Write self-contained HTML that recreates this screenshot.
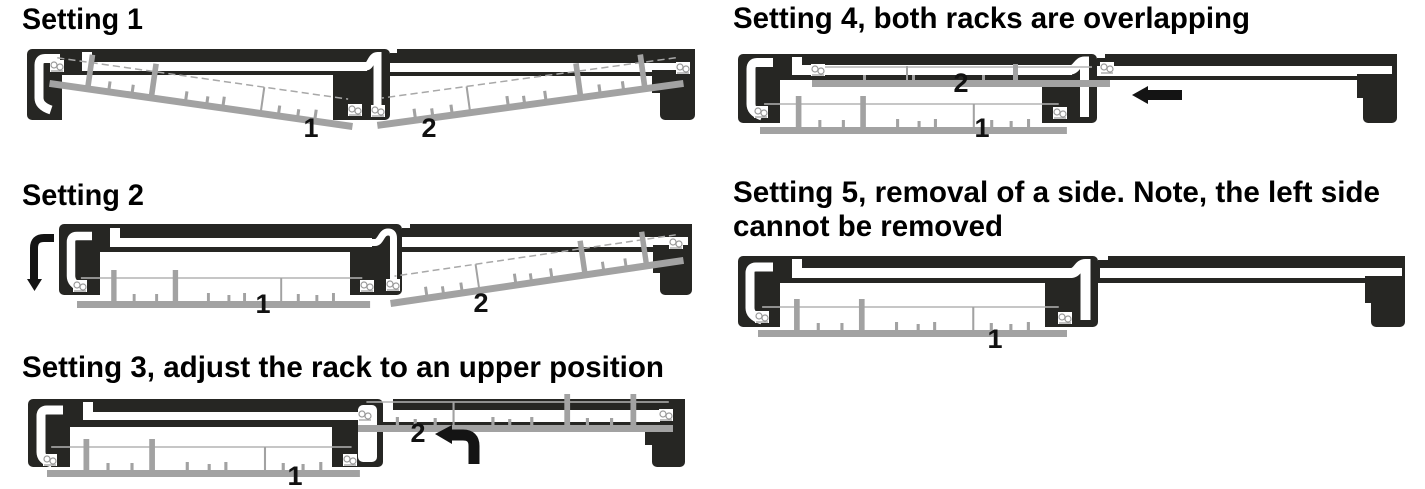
<!DOCTYPE html>
<html><head><meta charset="utf-8">
<style>
html,body{margin:0;padding:0;background:#fff;}
svg{display:block;}
.h{font-family:"Liberation Sans",Arial,sans-serif;font-weight:bold;font-size:30px;fill:#000;}
.n{font-family:"Liberation Sans",Arial,sans-serif;font-weight:bold;font-size:27px;fill:#111;text-anchor:middle;}
.d{fill:#262623;}
.w{fill:#fff;}
.ws{stroke:#fff;fill:none;}
</style></head><body>
<svg width="1425" height="489" viewBox="0 0 1425 489" xmlns="http://www.w3.org/2000/svg">
<defs>
<g id="rkb">
 <rect x="0" y="0" width="300" height="7" fill="#a2a2a2"/>
 <rect x="35" y="-31" width="5.5" height="32" fill="#a2a2a2"/>
 <rect x="98" y="-31" width="5.5" height="32" fill="#a2a2a2"/>
 <rect x="208" y="-23" width="2" height="24" fill="#a2a2a2"/>
 <g fill="#a2a2a2">
  <rect x="57" y="-7" width="3" height="8"/>
  <rect x="80" y="-7" width="3" height="8"/>
  <rect x="133" y="-8" width="3" height="9"/>
  <rect x="154" y="-6" width="3" height="7"/>
  <rect x="170" y="-8" width="3" height="9"/>
  <rect x="225" y="-7" width="3" height="8"/>
  <rect x="244" y="-6" width="3" height="7"/>
  <rect x="261" y="-8" width="3" height="9"/>
 </g>
</g>
<g id="rk">
 <line x1="4" y1="-23" x2="292" y2="-23" stroke="#b3b3b3" stroke-width="1.5"/>
 <use href="#rkb"/>
</g>
<g id="rkd">
 <line x1="4" y1="-23" x2="292" y2="-23" stroke="#a8a8a8" stroke-width="1.5" stroke-dasharray="7 4"/>
 <use href="#rkb"/>
</g>
<g id="pv">
 <rect x="-7" y="-6" width="14" height="12" fill="#fff"/>
 <circle cx="-3" cy="-1" r="3" fill="none" stroke="#9a9a9a" stroke-width="1.2"/>
 <circle cx="3" cy="1" r="3" fill="none" stroke="#9a9a9a" stroke-width="1.2"/>
 <line x1="-6" y1="5" x2="6" y2="5" stroke="#9a9a9a" stroke-width="1.2"/>
</g>
</defs>

<!-- Headings -->
<text class="h" x="22" y="29" textLength="121" lengthAdjust="spacingAndGlyphs">Setting 1</text>
<text class="h" x="22" y="205" textLength="122" lengthAdjust="spacingAndGlyphs">Setting 2</text>
<text class="h" x="22" y="377" textLength="642" lengthAdjust="spacingAndGlyphs">Setting 3, adjust the rack to an upper position</text>
<text class="h" x="733" y="28" textLength="517" lengthAdjust="spacingAndGlyphs">Setting 4, both racks are overlapping</text>
<text class="h" x="733" y="202" textLength="647" lengthAdjust="spacingAndGlyphs">Setting 5, removal of a side. Note, the left side</text>
<text class="h" x="733" y="236" textLength="270" lengthAdjust="spacingAndGlyphs">cannot be removed</text>

<!-- ===== Setting 1 ===== -->
<rect class="d" x="27" y="49" width="363" height="71" rx="5"/>
<rect class="w" x="62" y="75" width="271" height="47"/>
<rect class="w" x="82" y="62" width="285" height="9"/>
<rect class="w" x="82" y="52" width="10" height="19"/>
<path class="ws" d="M60 58.5 H45 Q39 58.5 39 65 V98 Q39 106 51 110" stroke-width="9"/>
<path class="ws" d="M355 66.5 H366 C371 66.5 371 56 377.5 56 V114" stroke-width="8"/>
<rect class="d" x="390" y="49" width="305" height="27"/>
<rect class="w" x="390" y="63" width="298" height="9"/>
<rect class="w" x="390" y="49" width="7" height="4"/>
<rect class="d" x="652" y="70" width="43" height="23"/>
<rect class="d" x="660" y="85" width="35" height="35" rx="5"/>
<use href="#rkd" transform="translate(50,80) rotate(8.08) scale(1.02,1)"/>
<use href="#rkd" transform="translate(683,80) rotate(-7.8) scale(-1.03,1)"/>
<use href="#pv" x="57" y="66"/>
<use href="#pv" x="355" y="110"/>
<use href="#pv" x="378" y="111"/>
<use href="#pv" x="683" y="68"/>
<text class="n" x="311" y="137">1</text>
<text class="n" x="429" y="137">2</text>

<!-- ===== Setting 2 ===== -->
<rect class="d" x="59" y="224" width="343" height="71" rx="5"/>
<rect class="w" x="100" y="252" width="250" height="45"/>
<rect class="w" x="110" y="238" width="262" height="9"/>
<rect class="w" x="110" y="228" width="10" height="19"/>
<path class="ws" d="M92 236 H77 Q71 236 71 242 V276 Q71 284 82 288" stroke-width="8.5"/>
<path class="ws" d="M360 242.5 H375 C381 242.5 381 232 388 232 Q393.5 232 393.5 238 V290" stroke-width="7"/>
<rect class="d" x="402" y="224" width="290" height="28"/>
<rect class="w" x="402" y="237" width="286" height="10"/>
<rect class="w" x="402" y="224" width="8" height="4"/>
<rect class="d" x="653" y="245" width="39" height="28"/>
<rect class="d" x="660" y="262" width="32" height="33" rx="5"/>
<use href="#rk" transform="translate(77,301) scale(0.977,1)"/>
<use href="#rkd" transform="translate(683,257) rotate(-8.36) scale(-0.987,1)"/>
<use href="#pv" x="80" y="286"/>
<use href="#pv" x="367" y="286"/>
<use href="#pv" x="393" y="285"/>
<use href="#pv" x="676" y="243"/>
<text class="n" x="263" y="313">1</text>
<text class="n" x="481" y="312">2</text>
<path d="M54 238 H44 Q34 238 34 248 V280" stroke="#141414" stroke-width="8" fill="none"/>
<polygon points="27,279 42,279 34.5,291" fill="#141414"/>

<!-- ===== Setting 3 ===== -->
<rect class="d" x="28" y="399" width="355" height="68" rx="5"/>
<rect class="w" x="70" y="427" width="262" height="41"/>
<rect class="w" x="83" y="412" width="277" height="8"/>
<rect class="w" x="83" y="402" width="10" height="18"/>
<path class="ws" d="M63 410 H47 Q41 410 41 416 V452 Q41 460 52 463" stroke-width="9"/>
<rect class="w" x="358" y="405" width="19" height="57" rx="5"/>
<rect class="d" x="383" y="399" width="302" height="26"/>
<rect class="w" x="383" y="410" width="277" height="12"/>
<rect class="w" x="383" y="399" width="10" height="11"/>
<rect class="d" x="660" y="405" width="25" height="30"/>
<rect class="d" x="645" y="425" width="40" height="20"/>
<rect class="d" x="652" y="430" width="33" height="37" rx="5"/>
<use href="#rk" transform="translate(47,470) scale(1.043,1)"/>
<use href="#rk" transform="translate(673,425) scale(-1.05,1)"/>
<use href="#pv" x="50" y="460"/>
<use href="#pv" x="350" y="460"/>
<use href="#pv" x="365" y="415"/>
<use href="#pv" x="666" y="415"/>
<text class="n" x="295" y="485">1</text>
<text class="n" x="418" y="442">2</text>
<path d="M474 464 V446 Q474 435 463 435 H450" stroke="#141414" stroke-width="11" fill="none"/>
<polygon points="435,434 452,425 452,444" fill="#141414"/>

<!-- ===== Setting 4 ===== -->
<rect class="d" x="738" y="54" width="359" height="69" rx="5"/>
<rect class="w" x="780" y="80" width="262" height="44"/>
<rect class="w" x="792" y="65" width="280" height="10"/>
<rect class="w" x="792" y="57" width="10" height="18"/>
<path class="ws" d="M773 62.5 H757 Q751 62.5 751 69 V104 Q751 112 762 116" stroke-width="9"/>
<path class="ws" d="M1060 70 H1070 C1077 70 1077 61 1084.5 61 V117" stroke-width="9"/>
<rect class="d" x="1097" y="54" width="300" height="26"/>
<rect class="w" x="1097" y="66" width="295" height="10"/>
<rect class="w" x="1097" y="54" width="8" height="4"/>
<rect class="d" x="1357" y="74" width="40" height="24"/>
<rect class="d" x="1363" y="88" width="34" height="35" rx="5"/>
<use href="#rk" transform="translate(760,127) scale(1.023,1)"/>
<line x1="815" y1="67" x2="1092" y2="67" stroke="#b3b3b3" stroke-width="1.5"/>
<rect x="812" y="80" width="298" height="7" fill="#a2a2a2"/>
<rect x="906" y="66" width="2" height="14" fill="#a2a2a2"/>
<rect x="1013" y="64" width="5" height="16" fill="#a2a2a2"/>
<rect x="863" y="75" width="3" height="5" fill="#a2a2a2"/>
<rect x="912" y="75" width="3" height="5" fill="#a2a2a2"/>
<rect x="982" y="75" width="3" height="5" fill="#a2a2a2"/>
<use href="#pv" x="761" y="112"/>
<use href="#pv" x="1060" y="113"/>
<use href="#pv" x="818" y="70"/>
<use href="#pv" x="1107" y="68"/>
<text class="n" x="961" y="92">2</text>
<text class="n" x="982" y="137">1</text>
<path d="M1182 90 H1148 V86 L1132 95 L1148 104 V100 H1182 Z" fill="#141414"/>

<!-- ===== Setting 5 ===== -->
<rect class="d" x="738" y="256" width="360" height="71" rx="5"/>
<rect class="w" x="780" y="283" width="265" height="45"/>
<rect class="w" x="792" y="268" width="280" height="10"/>
<rect class="w" x="792" y="259" width="10" height="19"/>
<path class="ws" d="M773 267 H756 Q750 267 750 273 V308 Q750 316 762 320" stroke-width="9"/>
<path class="ws" d="M1060 273 H1071 C1078 273 1078 264 1085.5 264 V320" stroke-width="10"/>
<rect class="d" x="1098" y="256" width="307" height="27"/>
<rect class="w" x="1100" y="268" width="302" height="10"/>
<rect class="w" x="1098" y="256" width="10" height="4"/>
<rect class="d" x="1365" y="276" width="40" height="27"/>
<rect class="d" x="1371" y="290" width="34" height="37" rx="5"/>
<use href="#rk" transform="translate(758,330) scale(1.03,1)"/>
<use href="#pv" x="762" y="317"/>
<use href="#pv" x="1065" y="318"/>
<text class="n" x="995" y="348">1</text>
</svg>
</body></html>
